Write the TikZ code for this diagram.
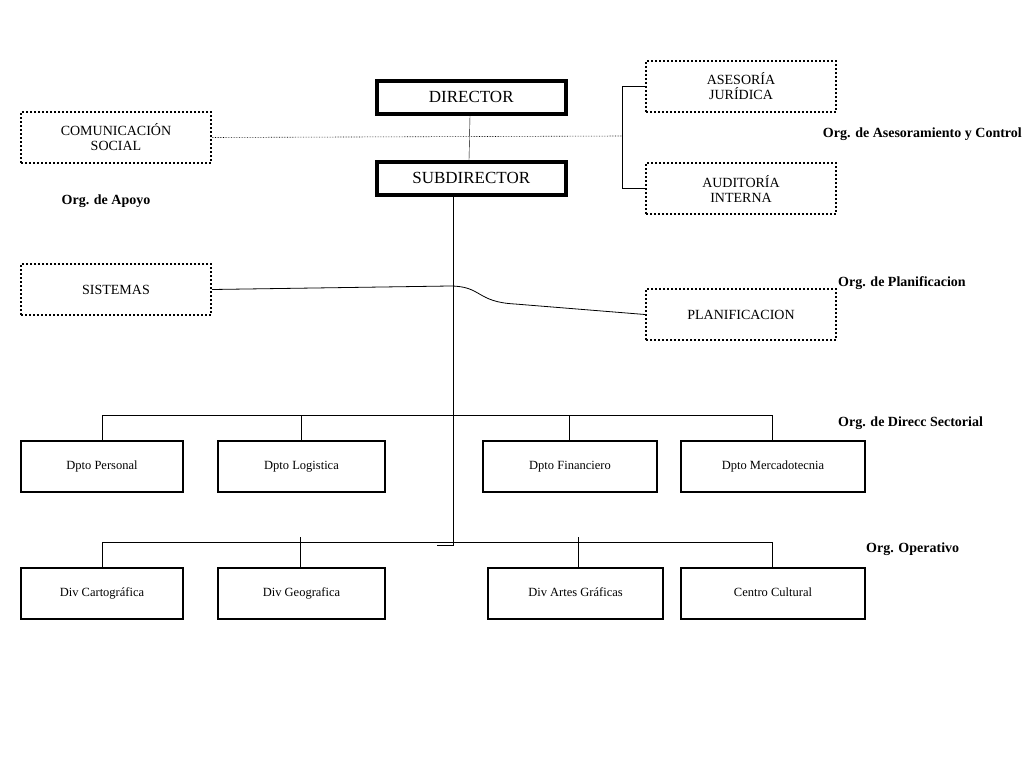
\documentclass[tikz,border=0pt]{standalone}
\usepackage{fontspec}
\setmainfont{Liberation Serif}
\usetikzlibrary{positioning}

\begin{document}
\begin{tikzpicture}[x=1pt,y=-1pt,font=\fontsize{12.5}{13}\selectfont,
                    every node/.style={inner sep=0pt,align=center},
                    thin]
          \tikzstyle{jefe}=[draw,line width=3.5pt,anchor=north west,minimum width=189pt,minimum height=33pt,font=\fontsize{17}{19}\selectfont]
          \tikzstyle{apoyo}=[draw,dotted,line width=2pt,anchor=north west,minimum width=190pt,minimum height=51pt,font=\fontsize{14}{15}\selectfont]
          \tikzstyle{depto}=[draw,line width=2pt,anchor=north west,minimum height=51pt,text height=9pt,text depth=3pt]
          \tikzstyle{nivel}=[font=\bfseries\fontsize{14}{15}\selectfont]

          \useasboundingbox (0,0) rectangle (1024,768);

          % cabeza
          \node[jefe] (dir) at (375,79)  {DIRECTOR};
          \node[jefe] (sub) at (375,160) {SUBDIRECTOR};

          % staff
          \node[apoyo] (com) at (20,111)  {COMUNICACIÓN\\SOCIAL};
          \node[apoyo] (ase) at (645,60)  {ASESORÍA\\JURÍDICA};
          \node[apoyo] (aud) at (645,162) {AUDITORÍA\\INTERNA};
          \node[apoyo] (sis) at (20,263)  {SISTEMAS};
          \node[apoyo] (pla) at (645,288) {PLANIFICACION};

          % direccion sectorial
          \node[depto,minimum width=162pt] (per) at (20,440)  {Dpto Personal};
          \node[depto,minimum width=167pt] (log) at (217,440) {Dpto Logistica};
          \node[depto,minimum width=174pt] (fin) at (482,440) {Dpto Financiero};
          \node[depto,minimum width=184pt] (mer) at (680,440) {Dpto Mercadotecnia};

          % operativo
          \node[depto,minimum width=162pt] (car) at (20,567)  {Div Cartográfica};
          \node[depto,minimum width=167pt] (geo) at (217,567) {Div Geografica};
          \node[depto,minimum width=175pt] (art) at (487,567) {Div Artes Gráficas};
          \node[depto,minimum width=184pt] (cen) at (680,567) {Centro Cultural};

          % rotulos
          \node[nivel,anchor=east] (nac) at (1022,134) {Org. de Asesoramiento y Control};
          \node[nivel] (nap) at (106,201) {Org. de Apoyo};
          \node[nivel,anchor=west] (npl) at (838,283) {Org. de Planificacion};
          \node[nivel,anchor=west] (nds) at (838,423) {Org. de Direcc Sectorial};
          \node[nivel,anchor=west] (nop) at (866,549) {Org. Operativo};

          \coordinate (bs) at (453,415);
          \coordinate (bo) at (453,545);
          \coordinate (ac) at (622,136);

          % lineas
          \draw (dir.south -| 470,0) -- (sub.north -| 469,0);
          \draw[densely dotted,semithick] (com.east) -- (ac);
          \draw (ase.west) -| (ac) |- (aud.west);
          \draw (sub.south -| bo) -- (bo) -- +(-16,0);
          \draw[line width=0.8pt] (sis.east) -- (450,286) .. controls (482,286) and (476,302) .. (515,304) -- (pla.west);

          \draw (per.north -| 102,0) -- (102,415) -- (772,415) -- (mer.north -| 772,0);
          \draw (301,415) -- (log.north -| 301,0);
          \draw (569,415) -- (fin.north -| 569,0);

          \draw (car.north -| 102,0) -- (102,542) -- (772,542) -- (cen.north -| 772,0);
          \draw (300,537) -- (geo.north -| 300,0);
          \draw (578,537) -- (art.north -| 578,0);
        \end{tikzpicture}
\end{document}
